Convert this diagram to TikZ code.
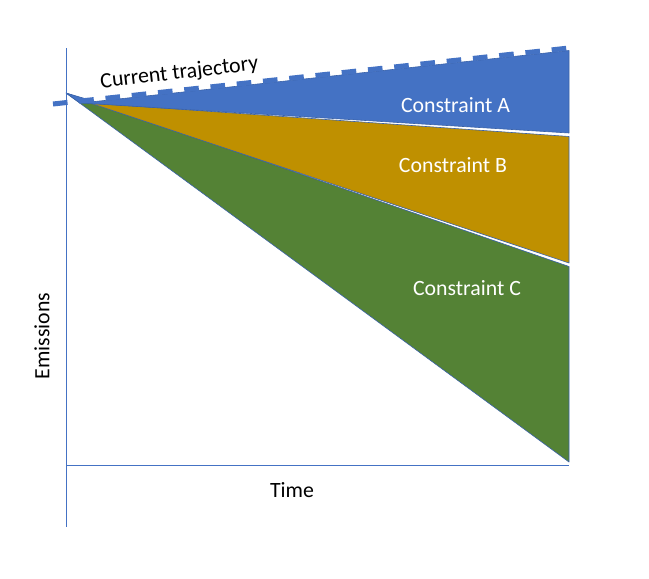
\documentclass[tikz,border=0pt]{standalone}
\usepackage{fontspec}
\setmainfont{Carlito}
\definecolor{blueA}{HTML}{4472C4}
\definecolor{goldB}{HTML}{BF9000}
\definecolor{greenC}{HTML}{548235}
\definecolor{edgeblue}{HTML}{3A62A8}
\begin{document}
\begin{tikzpicture}[x=1pt,y=-1pt,
  region/.style={draw=edgeblue,line width=0.6pt,line join=round},
  lbl/.style={font=\fontsize{21.8}{26}\selectfont,inner sep=0pt},
  axisline/.style={draw=blueA,line width=1pt},
  trajline/.style={draw=blueA,line width=5pt,dash pattern=on 14.6pt off 11.8pt}]
\useasboundingbox (0,0) rectangle (649,579);
\fill[white] (0,0) rectangle (649,579);
% regions
\filldraw[region,fill=greenC] (66,93) -- (569,266.5) -- (569,462) -- cycle;
\filldraw[region,fill=goldB] (90,103) -- (569,136.5) -- (569,263) -- cycle;
\filldraw[region,fill=blueA] (66,93) -- (95,101.5) -- (569,50.5) -- (569,133) -- (80,103) -- cycle;
% axes
\coordinate (yt) at (66,48);
\coordinate (org) at (66,465);
\coordinate (yb) at (66,527);
\coordinate (xe) at (569,465);
\draw[axisline] (yt) -- (yb);
\draw[axisline] (org) -- (xe);
% trajectory
\coordinate (ts) at (53,104);
\coordinate (te) at (569,48);
\draw[trajline] (ts) -- (te);
% labels
\node[lbl,anchor=base,rotate=6.7] (ct) at (180,79) {Current trajectory};
\node[lbl,anchor=base,text=white] (ca) at (455.5,112) {Constraint A};
\node[lbl,anchor=base,text=white] (cb) at (453,172) {Constraint B};
\node[lbl,anchor=base,text=white] (cc) at (467,295) {Constraint C};
\node[lbl,anchor=base] (tm) at (292,497) {Time};
\node[lbl,rotate=90] (em) at (42,336) {Emissions};
\end{tikzpicture}
\end{document}
